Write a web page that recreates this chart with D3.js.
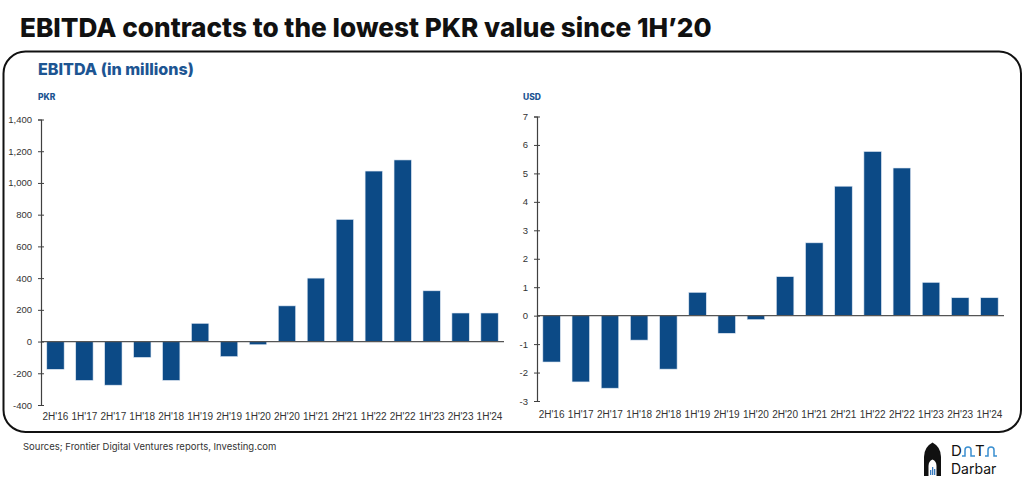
<!DOCTYPE html>
<html><head><meta charset="utf-8">
<script src="https://cdn.jsdelivr.net/npm/d3@7"></script>
<style>body{margin:0;background:#fff}</style>
</head><body>
<svg id="c" width="1024" height="478"></svg>
<script>
const categories = ["2H'16","1H'17","2H'17","1H'18","2H'18","1H'19","2H'19","1H'20","2H'20","1H'21","2H'21","1H'22","2H'22","1H'23","2H'23","1H'24"];
const pkrValues = [-175,-245,-275,-100,-245,115,-95,-20,225,400,770,1075,1145,320,180,180];
const usdValues = [-1.63,-2.33,-2.55,-0.86,-1.88,0.82,-0.62,-0.14,1.37,2.56,4.55,5.77,5.19,1.17,0.63,0.63];
const pkrTicks = [-400,-200,0,200,400,600,800,1000,1200,1400];
const usdTicks = [-3,-2,-1,0,1,2,3,4,5,6,7];

const svg = d3.select("#c");
const BAR = "#0c4a86", BLUE = "#1d5592";
const hyph = f => d => f(d).replace("−","-");

// Title
const title = svg.append("text").attr("x",20).attr("y",37)
  .attr("font-family","Inter, 'Open Sans', sans-serif").attr("font-weight",800)
  .attr("font-size",24).attr("fill","#111").text("EBITDA contracts to the lowest PKR value since 1H’20");
{ const w = title.node().getComputedTextLength(); title.attr("font-size", 24*692/w); }

// Frame
svg.append("rect").attr("x",3.5).attr("y",51.5).attr("width",1017.5).attr("height",380.5)
  .attr("rx",22).attr("fill","none").attr("stroke","#111").attr("stroke-width",2);

const sub = svg.append("text").attr("x",38).attr("y",75)
  .attr("font-family","Inter, 'Open Sans', sans-serif").attr("font-weight",800)
  .attr("font-size",16).attr("fill",BLUE).text("EBITDA (in millions)");
{ const w = sub.node().getComputedTextLength(); sub.attr("font-size", 16*156/w); }

function panel(opt){
  const g = svg.append("g");
  const x = d3.scaleBand().domain(categories).range(opt.xr).paddingInner(0.4).paddingOuter(0.2);
  const y = d3.scaleLinear().domain(opt.domain).range(opt.yr);
  g.append("text").attr("x",opt.unitX).attr("y",100).attr("font-family","Inter, 'Open Sans', sans-serif")
    .attr("font-weight",800).attr("font-size",8.5).attr("fill",BLUE).text(opt.unit);
  g.selectAll("rect.bar").data(opt.values).join("rect").attr("class","bar")
    .attr("x",(d,i)=>x(categories[i])).attr("width",x.bandwidth())
    .attr("y",d=>y(Math.max(0,d))).attr("height",d=>Math.abs(y(d)-y(0)))
    .attr("fill",BAR).attr("stroke","#dfe8f3").attr("stroke-width",0.6);
  g.append("line").attr("x1",opt.xr[0]).attr("x2",opt.xr[1]).attr("y1",y(0)).attr("y2",y(0))
    .attr("stroke","#555").attr("stroke-width",1.3);
  const ax = d3.axisLeft(y).tickValues(opt.ticks).tickFormat(hyph(opt.fmt)).tickSize(3).tickPadding(6);
  const ag = g.append("g").attr("transform",`translate(${opt.xr[0]},0)`).call(ax);
  ag.select(".domain").attr("stroke","#404040").attr("stroke-width",1.2);
  ag.selectAll(".tick line").attr("stroke","#404040").attr("x2",3).attr("x1",-3);
  ag.selectAll(".tick text").attr("font-family","'Liberation Sans', Arial, sans-serif")
    .attr("font-size",9.5).attr("fill","#333");
  g.selectAll("text.xl").data(categories).join("text").attr("class","xl")
    .attr("x",d=>x(d)+x.bandwidth()/2).attr("y",opt.labelY).attr("text-anchor","middle")
    .attr("font-family","'Liberation Sans', Arial, sans-serif").attr("font-size",10).attr("fill","#333").text(d=>d);
}

panel({xr:[41,504], yr:[405,119.5], domain:[-400,1400], ticks:pkrTicks, values:pkrValues,
  fmt:d3.format(","), unit:"PKR", unitX:38, labelY:420});
panel({xr:[537,1004], yr:[401,116.5], domain:[-3,7], ticks:usdTicks, values:usdValues,
  fmt:d3.format("d"), unit:"USD", unitX:523, labelY:417.5});

svg.append("text").attr("x",23).attr("y",450).attr("font-family","Inter, 'Open Sans', sans-serif")
  .attr("font-size",9.5).attr("fill","#333").text("Sources; Frontier Digital Ventures reports, Investing.com");

// Logo
const lg = svg.append("g");
lg.append("path").attr("d","M924,476 V457 Q924,447 932.5,442.5 Q941,447 941,457 V476 Z").attr("fill","#111");
lg.append("path").attr("d","M928.5,476 V466 Q928.5,461 932.5,459.5 Q936.5,461 936.5,466 V476 Z").attr("fill","#fff");
lg.append("rect").attr("x",930).attr("y",470).attr("width",1.3).attr("height",5).attr("fill","#3a7cc0");
lg.append("rect").attr("x",932).attr("y",467).attr("width",1.3).attr("height",8).attr("fill","#3a7cc0");
lg.append("rect").attr("x",934).attr("y",469).attr("width",1.3).attr("height",6).attr("fill","#3a7cc0");
lg.append("text").attr("x",951).attr("y",456).attr("font-family","Inter, sans-serif").attr("font-size",15).attr("fill","#111").text("D");
lg.append("text").attr("x",975).attr("y",456).attr("font-family","Inter, sans-serif").attr("font-size",15).attr("fill","#111").text("T");
lg.append("path").attr("d","M962,456 H965 V450 Q965,447 968,447 Q971,447 971,450 V456 H975 M985,456 H988 V450 Q988,447 991,447 Q994,447 994,450 V456 H997")
  .attr("fill","none").attr("stroke","#3a8fd0").attr("stroke-width",1.5);
lg.append("text").attr("x",951).attr("y",474).attr("font-family","Inter, sans-serif").attr("font-size",14).attr("fill","#111").text("Darbar");
</script>
</body></html>
